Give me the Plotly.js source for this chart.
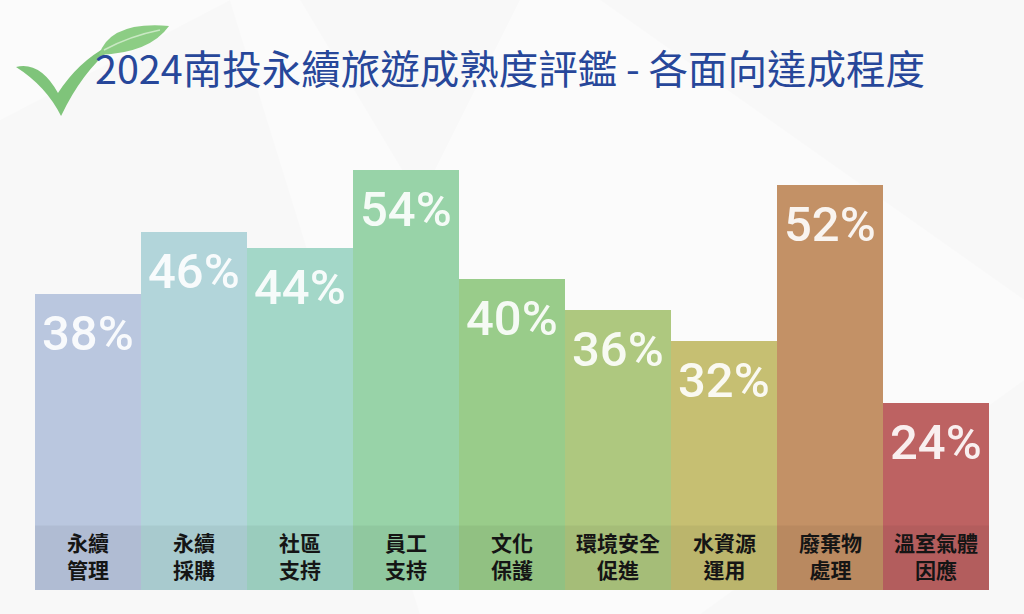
<!DOCTYPE html>
<html>
<head>
<meta charset="utf-8">
<script src="https://cdn.plot.ly/plotly-3.0.1.min.js"></script>
<style>html,body{margin:0;padding:0;background:#fbfbfb;}#chart{width:1024px;height:614px;}</style>
</head>
<body>
<div id="chart"></div>
<script>
const categories = ['永續管理','永續採購','社區支持','員工支持','文化保護','環境安全促進','水資源運用','廢棄物處理','溫室氣體因應'];
const tickLabels = ['永續<br>管理','永續<br>採購','社區<br>支持','員工<br>支持','文化<br>保護','環境安全<br>促進','水資源<br>運用','廢棄物<br>處理','溫室氣體<br>因應'];
const values = [38,46,44,54,40,36,32,52,24];
const valueLabels = ['38%','46%','44%','54%','40%','36%','32%','52%','24%'];
const barColors = ['#bac7df','#b2d5da','#a3d7c8','#98d3a8','#99cc8a','#aec87f','#c6bf72','#c39166','#bd6262'];
const titleText = '2024南投永續旅遊成熟度評鑑 - 各面向達成程度';

const W = 1024, H = 614;
const M = {l: 35, r: 35, t: 123, b: 24};
const PW = W - M.l - M.r, PH = H - M.t - M.b;
// pixel -> paper helpers for decorative shapes
const px = x => ((x - M.l) / PW).toFixed(4);
const py = y => ((H - M.b - y) / PH).toFixed(4);
function path(pts) {
  return pts.map(s => s.replace(/(-?\d+(?:\.\d+)?),(-?\d+(?:\.\d+)?)/g, (m, a, b) => px(+a) + ',' + py(+b))).join(' ');
}

const checkPath = path(['M 16,67', 'Q 40,61 58,93', 'Q 78,62 108,46', 'L 112,48', 'Q 82,72 61,116', 'Q 46,86 16,67 Z']);
const leafPath = path(['M 99,55', 'Q 110,21 169,26', 'Q 150,53 99,55 Z']);
const veinPath = path(['M 104,50', 'Q 130,36 160,30']);

const bgPolys = [
  ['M 0,120', 'L 230,0', 'L 420,614', 'L 0,614 Z'],
  ['M 600,0', 'L 1024,0', 'L 1024,300', 'Z'],
  ['M 700,614', 'L 1024,380', 'L 1024,614 Z'],
  ['M 300,0', 'L 520,0', 'L 420,200 Z']
].map(p => ({type: 'path', xref: 'paper', yref: 'paper', path: path(p), fillcolor: 'rgba(0,0,0,0.01)', line: {width: 0}, layer: 'below'}));

const data = [{
  type: 'bar',
  x: categories,
  y: values,
  marker: {color: barColors, line: {width: 0}},
  hoverinfo: 'skip',
  showlegend: false
}];

const annotations = [];
categories.forEach((c, i) => {
  annotations.push({
    x: c, y: values[i], xref: 'x', yref: 'y',
    text: valueLabels[i], showarrow: false,
    xanchor: 'center', yanchor: 'top', yshift: -9,
    font: {family: 'Roboto, sans-serif', size: 49, color: 'rgba(255,255,255,0.9)', weight: 500}
  });
  annotations.push({
    x: c, y: 0, xref: 'x', yref: 'y',
    text: tickLabels[i], showarrow: false,
    xanchor: 'center', yanchor: 'bottom', yshift: 4,
    font: {family: '"Noto Sans CJK TC", sans-serif', size: 21, color: '#151515', weight: 'bold'}
  });
});

const layout = {
  width: W, height: H,
  margin: M,
  paper_bgcolor: '#fbfbfb',
  plot_bgcolor: 'rgba(0,0,0,0)',
  bargap: 0,
  title: {
    text: titleText,
    x: 95 / W, xref: 'container', xanchor: 'left',
    y: 1 - 70 / H, yref: 'container', yanchor: 'middle',
    font: {family: '"Noto Sans CJK TC", sans-serif', size: 39.5, color: '#27479a'}
  },
  xaxis: {type: 'category', range: [-0.5, 8.5], showgrid: false, zeroline: false, showticklabels: false, showline: false, ticks: '', fixedrange: true},
  yaxis: {range: [0, 60], showgrid: false, zeroline: false, showticklabels: false, showline: false, ticks: '', fixedrange: true},
  shapes: bgPolys.concat([
    {type: 'rect', xref: 'paper', yref: 'y', x0: 0, x1: 1, y0: 0, y1: 8.3, fillcolor: 'rgba(0,0,0,0.05)', line: {width: 0}, layer: 'above'},
    {type: 'path', xref: 'paper', yref: 'paper', path: checkPath, fillcolor: '#7fc47a', line: {width: 0}, layer: 'above'},
    {type: 'path', xref: 'paper', yref: 'paper', path: leafPath, fillcolor: '#8ccd84', line: {width: 0}, layer: 'above'},
    {type: 'path', xref: 'paper', yref: 'paper', path: veinPath, line: {width: 1.5, color: '#c9e8c3'}, layer: 'above'}
  ]),
  annotations: annotations
};

Plotly.newPlot('chart', data, layout, {displayModeBar: false, staticPlot: true});
</script>
</body>
</html>
